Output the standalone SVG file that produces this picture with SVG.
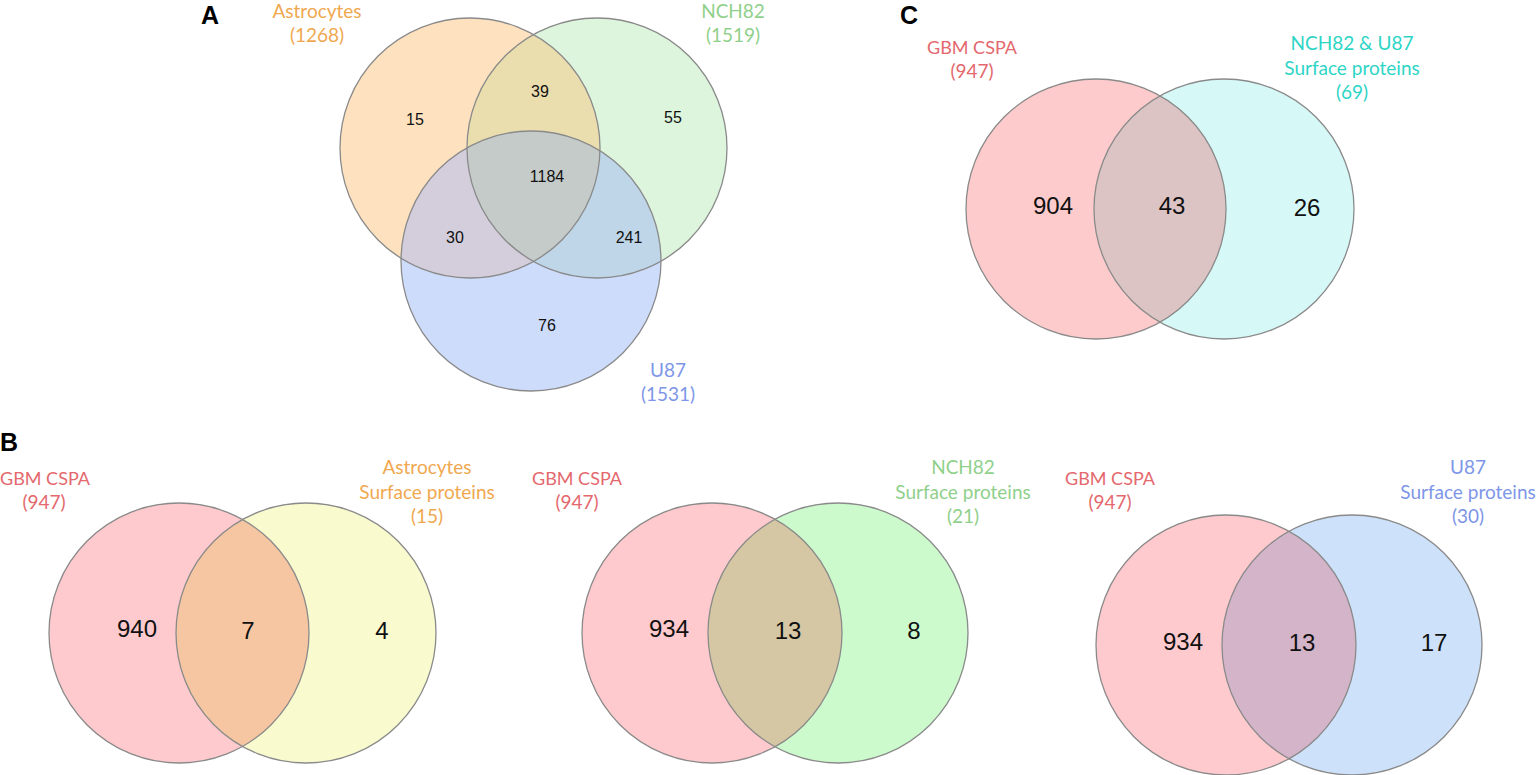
<svg xmlns="http://www.w3.org/2000/svg" width="1536" height="775" viewBox="0 0 1536 775">
<style>
.bg{fill:#ffffff}
.ol{fill:none;stroke:#8a8a8a;stroke-width:1.3}
.num{font-family:"Liberation Sans",Arial,sans-serif;fill:#111;text-anchor:middle}
.sm{font-size:16px}
.lg{font-size:24px}
.lab{font-family:Lato,"Open Sans",sans-serif;font-size:19px;text-anchor:middle}
.g18{font-size:18px}
.pl{font-family:"Liberation Sans",Arial,sans-serif;font-weight:bold;font-size:25px;fill:#000}
.red{fill:#E4686D}
.org{fill:#F0A84F}
.grn{fill:#8FD08B}
.blu{fill:#7E96E8}
.cyn{fill:#2ED5C6}
</style>
<defs>
<clipPath id="cAa"><circle cx="470" cy="148" r="130"/></clipPath>
<clipPath id="cAn"><circle cx="597" cy="148" r="130"/></clipPath>
<clipPath id="cAu"><circle cx="531" cy="261" r="130"/></clipPath>
<clipPath id="cCg"><circle cx="1096" cy="209" r="130"/></clipPath>
<clipPath id="cB1"><circle cx="179" cy="633" r="130"/></clipPath>
<clipPath id="cB2"><circle cx="712" cy="633" r="130"/></clipPath>
<clipPath id="cB3"><circle cx="1226" cy="645" r="130"/></clipPath>
</defs>
<rect class="bg" x="0" y="0" width="1536" height="775"/>
<g id="connectors"/>

<!-- Panel A -->
<g id="panelA">
<text class="pl" x="201" y="24">A</text>
<g id="A-astrocytes">
<circle cx="470" cy="148" r="130" fill="#FEE2BF"/>
<text class="lab org" x="317" y="18">Astrocytes</text>
<text class="lab org" x="317" y="42">(1268)</text>
</g>
<g id="A-nch82">
<circle cx="597" cy="148" r="130" fill="#DDF5DC"/>
<text class="lab grn" x="733" y="18">NCH82</text>
<text class="lab grn" x="733" y="42">(1519)</text>
</g>
<g id="A-u87">
<circle cx="531" cy="261" r="130" fill="#CEDCFB"/>
<text class="lab blu" x="668" y="377">U87</text>
<text class="lab blu" x="668" y="401">(1531)</text>
</g>
<g id="A-overlaps">
<circle cx="597" cy="148" r="130" fill="#EADDAE" clip-path="url(#cAa)"/>
<circle cx="531" cy="261" r="130" fill="#D4CEDC" clip-path="url(#cAa)"/>
<circle cx="531" cy="261" r="130" fill="#BED6E8" clip-path="url(#cAn)"/>
<g clip-path="url(#cAa)"><circle cx="531" cy="261" r="130" fill="#C5CBC9" clip-path="url(#cAn)"/></g>
</g>
<circle class="ol" cx="470" cy="148" r="130"/>
<circle class="ol" cx="597" cy="148" r="130"/>
<circle class="ol" cx="531" cy="261" r="130"/>
<text class="num sm" x="415" y="125">15</text>
<text class="num sm" x="540" y="97">39</text>
<text class="num sm" x="673" y="123">55</text>
<text class="num sm" x="547" y="182">1184</text>
<text class="num sm" x="455" y="243">30</text>
<text class="num sm" x="629" y="243">241</text>
<text class="num sm" x="547" y="331">76</text>
</g>

<!-- Panel C -->
<g id="panelC">
<text class="pl" x="900" y="24">C</text>
<g id="C-gbm">
<circle cx="1096" cy="209" r="130" fill="#FECBCC"/>
<text class="lab g18 red" x="972" y="54">GBM CSPA</text>
<text class="lab red" x="972" y="78">(947)</text>
</g>
<g id="C-nch82u87">
<circle cx="1224" cy="209" r="130" fill="#D6F9F8"/>
<text class="lab cyn" x="1352" y="50">NCH82 &amp; U87</text>
<text class="lab cyn" x="1352" y="75">Surface proteins</text>
<text class="lab cyn" x="1352" y="99">(69)</text>
</g>
<circle cx="1224" cy="209" r="130" fill="#DDC4C4" clip-path="url(#cCg)"/>
<circle class="ol" cx="1096" cy="209" r="130"/>
<circle class="ol" cx="1224" cy="209" r="130"/>
<text class="num lg" x="1053" y="214">904</text>
<text class="num lg" x="1172" y="214">43</text>
<text class="num lg" x="1307" y="216">26</text>
</g>

<!-- Panel B -->
<g id="panelB">
<text class="pl" x="0" y="451">B</text>
<g id="B1">
<g id="B1-gbm">
<circle cx="179" cy="633" r="130" fill="#FECACD"/>
<text class="lab g18 red" x="45" y="485">GBM CSPA</text>
<text class="lab red" x="44" y="509">(947)</text>
</g>
<g id="B1-astro">
<circle cx="306" cy="633" r="130" fill="#F9FBCF"/>
<text class="lab org" x="427" y="474">Astrocytes</text>
<text class="lab org" x="427" y="499">Surface proteins</text>
<text class="lab org" x="427" y="523">(15)</text>
</g>
<circle cx="306" cy="633" r="130" fill="#F6C6A2" clip-path="url(#cB1)"/>
<circle class="ol" cx="179" cy="633" r="130"/>
<circle class="ol" cx="306" cy="633" r="130"/>
<text class="num lg" x="137" y="637">940</text>
<text class="num lg" x="248" y="639">7</text>
<text class="num lg" x="382" y="639">4</text>
</g>
<g id="B2">
<g id="B2-gbm">
<circle cx="712" cy="633" r="130" fill="#FECACD"/>
<text class="lab g18 red" x="577" y="485">GBM CSPA</text>
<text class="lab red" x="577" y="509">(947)</text>
</g>
<g id="B2-nch82">
<circle cx="838" cy="633" r="130" fill="#CCFACD"/>
<text class="lab grn" x="963" y="474">NCH82</text>
<text class="lab grn" x="963" y="499">Surface proteins</text>
<text class="lab grn" x="963" y="523">(21)</text>
</g>
<circle cx="838" cy="633" r="130" fill="#D6C7A4" clip-path="url(#cB2)"/>
<circle class="ol" cx="712" cy="633" r="130"/>
<circle class="ol" cx="838" cy="633" r="130"/>
<text class="num lg" x="669" y="637">934</text>
<text class="num lg" x="788" y="639">13</text>
<text class="num lg" x="914" y="639">8</text>
</g>
<g id="B3">
<g id="B3-gbm">
<circle cx="1226" cy="645" r="130" fill="#FECACD"/>
<text class="lab g18 red" x="1110" y="485">GBM CSPA</text>
<text class="lab red" x="1110" y="509">(947)</text>
</g>
<g id="B3-u87">
<circle cx="1352" cy="645" r="130" fill="#CDE2FA"/>
<text class="lab blu" x="1468" y="474">U87</text>
<text class="lab blu" x="1468" y="499">Surface proteins</text>
<text class="lab blu" x="1468" y="523">(30)</text>
</g>
<circle cx="1352" cy="645" r="130" fill="#D4B4C8" clip-path="url(#cB3)"/>
<circle class="ol" cx="1226" cy="645" r="130"/>
<circle class="ol" cx="1352" cy="645" r="130"/>
<text class="num lg" x="1183" y="650">934</text>
<text class="num lg" x="1302" y="651">13</text>
<text class="num lg" x="1434" y="651">17</text>
</g>
</g>
</svg>
